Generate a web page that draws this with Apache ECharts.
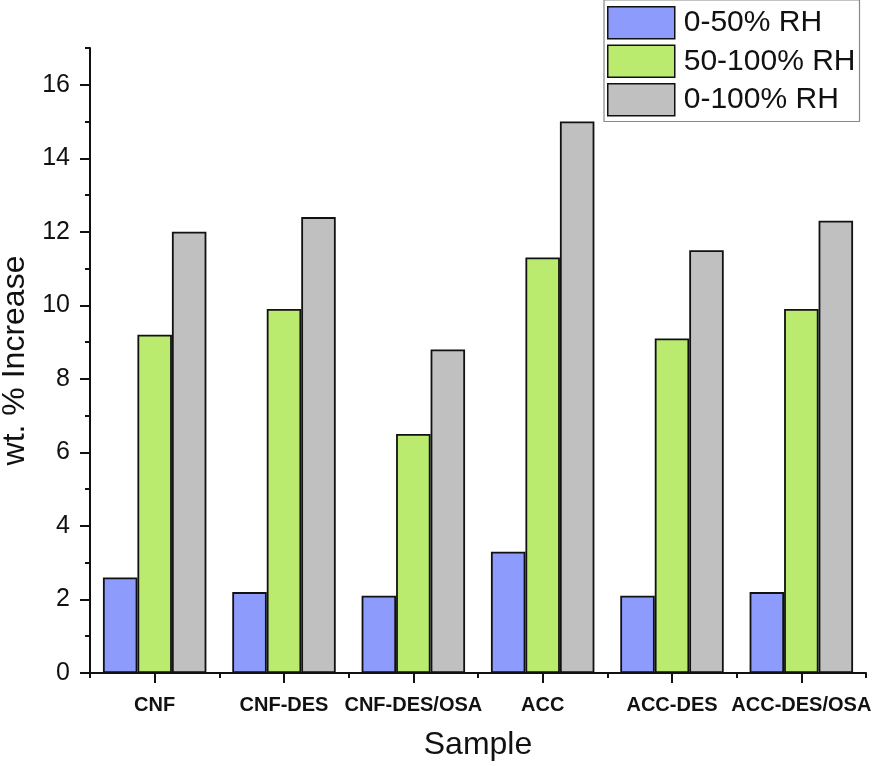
<!DOCTYPE html>
<html>
<head>
<meta charset="utf-8">
<script src="https://cdn.jsdelivr.net/npm/echarts@6/dist/echarts.min.js"></script>
<style>html,body{margin:0;padding:0;background:#fff}#c{width:873px;height:766px}</style>
</head>
<body>
<div id="c"></div>
<script>
var categories = ['CNF', 'CNF-DES', 'CNF-DES/OSA', 'ACC', 'ACC-DES', 'ACC-DES/OSA'];
var seriesNames = ['0-50% RH', '50-100% RH', '0-100% RH'];
var rh0to50 = [2.6, 2.2, 2.1, 3.3, 2.1, 2.2];
var rh50to100 = [9.2, 9.9, 6.5, 11.3, 9.1, 9.9];
var rh0to100 = [12.0, 12.4, 8.8, 15.0, 11.5, 12.3];
var yMajorTicks = [0, 2, 4, 6, 8, 10, 12, 14, 16];

var FONT = '"Liberation Sans", Arial, sans-serif';
var colors = ['#8C9BFC', '#BAEB6F', '#C0C0C0'];
var chart = echarts.init(document.getElementById('c'));

var gridTop = 48, gridBottom = 93, gridLeft = 90, gridRight = 7;
var yMax = 17;
var plotH = 766 - gridTop - gridBottom;
var topMajor = yMajorTicks[yMajorTicks.length - 1];
var grid2Top = gridTop + plotH * (yMax - topMajor) / yMax;
var loose = { left: -300, right: -300, top: -300, bottom: -300 };
var centerIdx = categories.map(function (c, i) { return i; });

function bar(name, data, color) {
  return {
    name: name, type: 'bar', data: data,
    xAxisIndex: 0, yAxisIndex: 0,
    barGap: '0%', barCategoryGap: '20%',
    itemStyle: { color: color, borderColor: '#111', borderWidth: 1.8 }
  };
}

chart.setOption({
  animation: false,
  backgroundColor: '#fff',
  textStyle: { fontFamily: FONT },
  grid: [
    { left: gridLeft, right: gridRight, top: gridTop, bottom: gridBottom, outerBounds: loose },
    { left: gridLeft, right: gridRight, top: grid2Top, bottom: gridBottom, outerBounds: loose }
  ],
  legend: {
    orient: 'vertical', left: 604, top: 0,
    padding: [6, 4, 5, 3],
    itemWidth: 67, itemHeight: 32, itemGap: 5,
    backgroundColor: '#fff', borderColor: '#888', borderWidth: 1.2,
    icon: 'rect',
    itemStyle: { borderColor: '#111', borderWidth: 1.5 },
    textStyle: { fontSize: 30, color: '#111', fontFamily: FONT, padding: [0, 0, 0, 4] },
    data: seriesNames
  },
  xAxis: [
    {
      type: 'category', data: categories, gridIndex: 0, position: 'bottom',
      name: 'Sample', nameLocation: 'middle', nameGap: 56,
      nameTextStyle: { fontSize: 32, color: '#111', fontFamily: FONT },
      axisLine: { lineStyle: { color: '#111', width: 2 } },
      axisTick: { show: false },
      axisLabel: { fontSize: 20, fontWeight: 'bold', color: '#111', margin: 22, interval: 0, fontFamily: FONT },
      splitLine: { show: false }
    },
    {
      type: 'category', data: categories, gridIndex: 0, position: 'bottom',
      axisLine: { show: false },
      axisTick: { show: true, length: 5, lineStyle: { color: '#111', width: 2 } },
      axisLabel: { show: false }, splitLine: { show: false }
    },
    {
      type: 'value', gridIndex: 1, position: 'bottom',
      min: -0.5, max: categories.length - 0.5,
      axisLine: { show: false, onZero: false },
      axisTick: { show: true, customValues: centerIdx, length: 10, lineStyle: { color: '#111', width: 2 } },
      axisLabel: { show: false }, splitLine: { show: false }
    }
  ],
  yAxis: [
    {
      type: 'value', gridIndex: 0, min: 0, max: yMax, interval: 1,
      name: 'wt. % Increase', nameLocation: 'middle', nameGap: 50,
      nameTextStyle: { fontSize: 32, color: '#111', fontFamily: FONT },
      axisLine: { show: true, lineStyle: { color: '#111', width: 2 } },
      axisTick: { show: true, length: 5, lineStyle: { color: '#111', width: 2 } },
      axisLabel: {
        fontSize: 25, color: '#111', margin: 20, fontFamily: FONT,
        formatter: function (v) { return yMajorTicks.indexOf(v) >= 0 ? String(v) : ''; }
      },
      splitLine: { show: false }
    },
    {
      type: 'value', gridIndex: 1, min: 0, max: topMajor, interval: 2, position: 'left',
      axisLine: { show: false, onZero: false },
      axisTick: { show: true, length: 10, lineStyle: { color: '#111', width: 2 } },
      axisLabel: { show: false }, splitLine: { show: false }
    }
  ],
  series: [
    bar(seriesNames[0], rh0to50, colors[0]),
    bar(seriesNames[1], rh50to100, colors[1]),
    bar(seriesNames[2], rh0to100, colors[2])
  ]
});
</script>
</body>
</html>
